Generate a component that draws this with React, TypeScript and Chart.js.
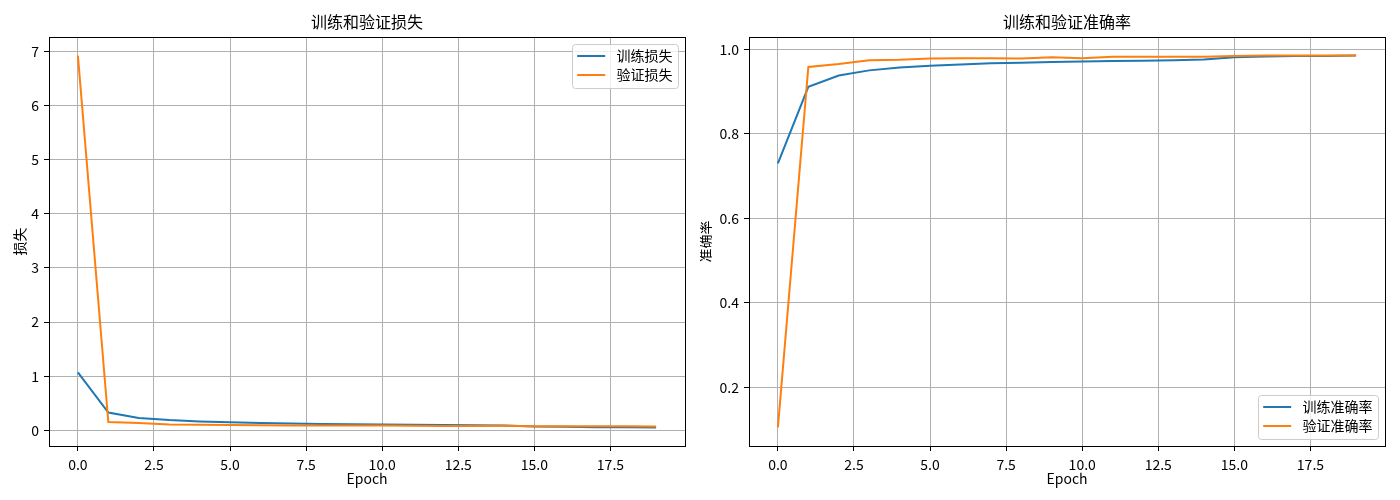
import React, { useEffect, useRef } from 'react';
import { Chart, registerables } from 'chart.js';

Chart.register(...registerables);

const FONT = '"Noto Sans CJK SC", "Noto Sans", sans-serif';

const epochs = [0, 1, 2, 3, 4, 5, 6, 7, 8, 9, 10, 11, 12, 13, 14, 15, 16, 17, 18, 19];
const xTickValues = [0, 2.5, 5, 7.5, 10, 12.5, 15, 17.5];
const lossTickValues = [0, 1, 2, 3, 4, 5, 6, 7];
const accTickValues = [0.2, 0.4, 0.6, 0.8, 1.0];

const trainLoss = [1.07, 0.33, 0.23, 0.19, 0.165, 0.148, 0.138, 0.128, 0.12, 0.115, 0.11, 0.105, 0.1, 0.095, 0.092, 0.07, 0.065, 0.06, 0.058, 0.055];
const valLoss = [6.92, 0.155, 0.135, 0.108, 0.102, 0.098, 0.095, 0.092, 0.092, 0.088, 0.09, 0.085, 0.083, 0.082, 0.084, 0.078, 0.076, 0.075, 0.075, 0.074];
const trainAcc = [0.73, 0.911, 0.938, 0.95, 0.957, 0.961, 0.964, 0.967, 0.968, 0.97, 0.971, 0.972, 0.973, 0.974, 0.976, 0.981, 0.983, 0.984, 0.984, 0.985];
const valAcc = [0.105, 0.958, 0.965, 0.974, 0.975, 0.978, 0.979, 0.979, 0.978, 0.981, 0.979, 0.982, 0.982, 0.982, 0.982, 0.984, 0.985, 0.985, 0.985, 0.985];

const BLUE = '#1f77b4';
const ORANGE = '#ff7f0e';

function paddedRange(values: number[]) {
  const mn = Math.min(...values);
  const mx = Math.max(...values);
  const p = (mx - mn) * 0.05;
  return { min: mn - p, max: mx + p };
}

const framePlugin = {
  id: 'mplFrame',
  afterDatasetsDraw(chart: any) {
    const { ctx, chartArea: a } = chart;
    ctx.save();
    ctx.strokeStyle = '#000';
    ctx.lineWidth = 1;
    ctx.strokeRect(a.left + 0.5, a.top + 0.5, a.right - a.left, a.bottom - a.top);
    ctx.restore();
  },
};

const legendPlugin = {
  id: 'mplLegend',
  afterDraw(chart: any, _args: any, opts: any) {
    const { ctx, chartArea: a } = chart;
    const fs = 14;
    ctx.save();
    ctx.font = `${fs}px ${FONT}`;
    const ds = chart.data.datasets;
    const tw = Math.max(...ds.map((d: any) => ctx.measureText(d.label).width));
    const pad = 5.6;
    const hl = 28;
    const htp = 11.2;
    const w = pad + hl + htp + tw + pad;
    const h = 44;
    const right = a.right - 7;
    const left = right - w;
    const top = opts.loc === 'upper right' ? a.top + 7 : a.bottom - 7 - h;
    ctx.beginPath();
    ctx.roundRect(Math.round(left) + 0.5, Math.round(top) + 0.5, Math.round(w), h, 3);
    ctx.fillStyle = 'rgba(255,255,255,0.8)';
    ctx.fill();
    ctx.strokeStyle = '#cccccc';
    ctx.lineWidth = 1;
    ctx.stroke();
    ds.forEach((d: any, i: number) => {
      const cy = top + 12 + i * 19;
      ctx.beginPath();
      ctx.moveTo(left + pad, cy);
      ctx.lineTo(left + pad + hl, cy);
      ctx.strokeStyle = d.borderColor;
      ctx.lineWidth = 2;
      ctx.stroke();
      ctx.fillStyle = '#000';
      ctx.textAlign = 'left';
      ctx.textBaseline = 'middle';
      ctx.fillText(d.label, left + pad + hl + htp, cy);
    });
    ctx.restore();
  },
};

type PanelProps = {
  title: string;
  yLabel: string;
  labels: [string, string];
  series: [number[], number[]];
  yTicks: number[];
  yFmt: (v: number) => string;
  legendLoc: string;
  yTitlePad: number;
};

function Panel(props: PanelProps) {
  const ref = useRef<HTMLCanvasElement | null>(null);
  useEffect(() => {
    if (!ref.current) return;
    const xr = paddedRange(epochs);
    const yr = paddedRange([...props.series[0], ...props.series[1]]);
    const chart = new Chart(ref.current, {
      type: 'line',
      data: {
        datasets: [
          {
            label: props.labels[0],
            data: props.series[0].map((v, i) => ({ x: epochs[i], y: v })),
            borderColor: BLUE,
            backgroundColor: BLUE,
            borderWidth: 2,
            pointRadius: 0,
            tension: 0,
            order: 1,
          },
          {
            label: props.labels[1],
            data: props.series[1].map((v, i) => ({ x: epochs[i], y: v })),
            borderColor: ORANGE,
            backgroundColor: ORANGE,
            borderWidth: 2,
            pointRadius: 0,
            tension: 0,
            order: 0,
          },
        ],
      },
      options: {
        animation: false,
        responsive: false,
        layout: { padding: { left: 0, right: 15, top: 0, bottom: 0 } },
        font: { family: FONT },
        color: '#000',
        scales: {
          x: {
            type: 'linear',
            min: xr.min,
            max: xr.max,
            afterBuildTicks: (s: any) => {
              s.ticks = xTickValues.map((v) => ({ value: v }));
            },
            afterFit: (s: any) => {
              s.height = 54;
            },
            ticks: {
              callback: (v: any) => Number(v).toFixed(1),
              font: { size: 14, family: FONT },
              color: '#000',
              padding: 5,
              maxRotation: 0,
              autoSkip: false,
            },
            grid: { color: '#b0b0b0', lineWidth: 1, tickColor: '#000', tickLength: 5, drawTicks: true },
            border: { display: false },
            title: {
              display: true,
              text: 'Epoch',
              color: '#000',
              font: { size: 14, family: FONT },
              padding: { top: 0, bottom: 13.4 },
            },
          },
          y: {
            type: 'linear',
            min: yr.min,
            max: yr.max,
            afterBuildTicks: (s: any) => {
              s.ticks = props.yTicks.map((v) => ({ value: v }));
            },
            afterFit: (s: any) => {
              s.width = 49;
            },
            ticks: {
              callback: (v: any) => props.yFmt(Number(v)),
              font: { size: 14, family: FONT },
              color: '#000',
              padding: 5,
              autoSkip: false,
            },
            grid: { color: '#b0b0b0', lineWidth: 1, tickColor: '#000', tickLength: 5, drawTicks: true },
            border: { display: false },
            title: {
              display: true,
              text: props.yLabel,
              color: '#000',
              font: { size: 14, family: FONT },
              padding: { top: props.yTitlePad, bottom: 0 },
            },
          },
        },
        plugins: {
          legend: { display: false },
          tooltip: { enabled: false },
          title: {
            display: true,
            text: props.title,
            fullSize: false,
            color: '#000',
            font: { size: 16, weight: 'normal', family: FONT },
            padding: { top: 12.5, bottom: 5.3 },
          },
          mplLegend: { loc: props.legendLoc },
        } as any,
      },
      plugins: [framePlugin, legendPlugin],
    } as any);
    return () => chart.destroy();
  }, []);
  return <canvas ref={ref} width={700} height={500} style={{ display: 'block', width: 700, height: 500 }} />;
}

export default function App() {
  return (
    <div style={{ position: 'absolute', left: 0, top: 0, width: 1400, height: 500, display: 'flex', background: '#fff' }}>
      <Panel
        title="训练和验证损失"
        yLabel="损失"
        labels={['训练损失', '验证损失']}
        series={[trainLoss, valLoss]}
        yTicks={lossTickValues}
        yFmt={(v) => String(v)}
        legendLoc="upper right"
        yTitlePad={11.6}
      />
      <Panel
        title="训练和验证准确率"
        yLabel="准确率"
        labels={['训练准确率', '验证准确率']}
        series={[trainAcc, valAcc]}
        yTicks={accTickValues}
        yFmt={(v) => v.toFixed(1)}
        legendLoc="lower right"
        yTitlePad={-3.4}
      />
    </div>
  );
}
